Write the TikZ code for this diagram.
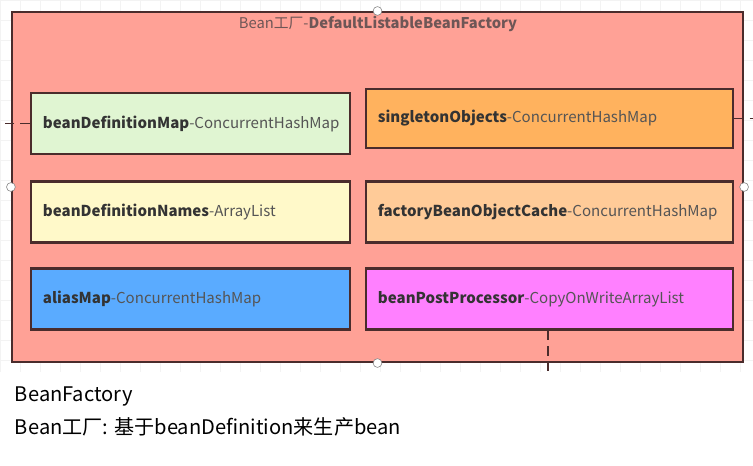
\documentclass[tikz,border=0pt]{standalone}
\usepackage{fontspec}
\setmainfont{Noto Sans CJK SC}
\usetikzlibrary{calc}

\definecolor{edge}{HTML}{4A2C2C}
\definecolor{factoryfill}{HTML}{FFA196}
\definecolor{mapgreen}{HTML}{E0F5D2}
\definecolor{listyellow}{HTML}{FFF9C9}
\definecolor{aliasblue}{HTML}{5AABFF}
\definecolor{singleorange}{HTML}{FFB25E}
\definecolor{cacheorange}{HTML}{FFCB98}
\definecolor{postpink}{HTML}{FF80FF}
\definecolor{typegrey}{HTML}{555555}
\definecolor{gridgrey}{HTML}{F3F3F3}

\newcommand{\field}[2]{\mbox{\textbf{#1}\textcolor{typegrey}{-#2}}}

\begin{document}
\begin{tikzpicture}[x=0.025cm,y=-0.025cm,
    mapbox/.style={draw=edge,line width=1.5pt,minimum height=1.525cm,
        inner xsep=0.3cm,align=left,text=black!80,
        font=\fontsize{10.7}{12}\selectfont},
    leftbox/.style={mapbox,text width=7.375cm},
    rightbox/.style={mapbox,text width=8.575cm},
    link/.style={draw=edge,line width=1.2pt,dash pattern=on 7pt off 4pt},
    handle/.style={circle,draw=black!50,fill=white,inner sep=0pt,minimum size=0.22cm}]
            \path[use as bounding box] (0,0) rectangle (753,465);
            \draw[gridgrey,step=0.5cm] (0,0) grid (753,372);

            \node[draw=edge,line width=1.4pt,fill=factoryfill,minimum width=18.275cm,
                minimum height=8.75cm] (factory) at (377.5,187) {};
            \node[text=edge!80,font=\fontsize{10.5}{12}\selectfont,anchor=north]
                (title) at (378,11) {Bean工厂-\textbf{DefaultListableBeanFactory}};

            \node[leftbox,fill=mapgreen] (bdm) at (190.5,123.5) {\field{beanDefinitionMap}{ConcurrentHashMap}};
            \node[leftbox,fill=listyellow] (bdn) at (190.5,212) {\field{beanDefinitionNames}{ArrayList}};
            \node[leftbox,fill=aliasblue] (alias) at (190.5,299) {\field{aliasMap}{ConcurrentHashMap}};
            \node[rightbox,fill=singleorange,minimum height=1.475cm] (single) at (549.5,118.5) {\field{singletonObjects}{ConcurrentHashMap}};
            \node[rightbox,fill=cacheorange] (cache) at (549.5,212) {\field{factoryBeanObjectCache}{ConcurrentHashMap}};
            \node[rightbox,fill=postpink] (post) at (549.5,299) {\field{beanPostProcessor}{CopyOnWriteArrayList}};

            \coordinate (leftend) at (0,123.5);
            \coordinate (rightend) at (753,118.5);
            \coordinate (downend) at (548,372);

            \draw[link] (bdm.west) -- (leftend);
            \draw[link] (single.east) -- (rightend);
            \draw[link] (post.south -| downend) -- (downend);

            \foreach \a in {north,south,east,west}
                \node[handle] at (factory.\a) {};

            \node[anchor=west,font=\fontsize{14.3}{16}\selectfont] (name) at (10,396) {BeanFactory};
            \node[anchor=west,font=\fontsize{14.3}{16}\selectfont] (desc) at (10,427) {Bean工厂: 基于beanDefinition来生产bean};
        \end{tikzpicture}
\end{document}
